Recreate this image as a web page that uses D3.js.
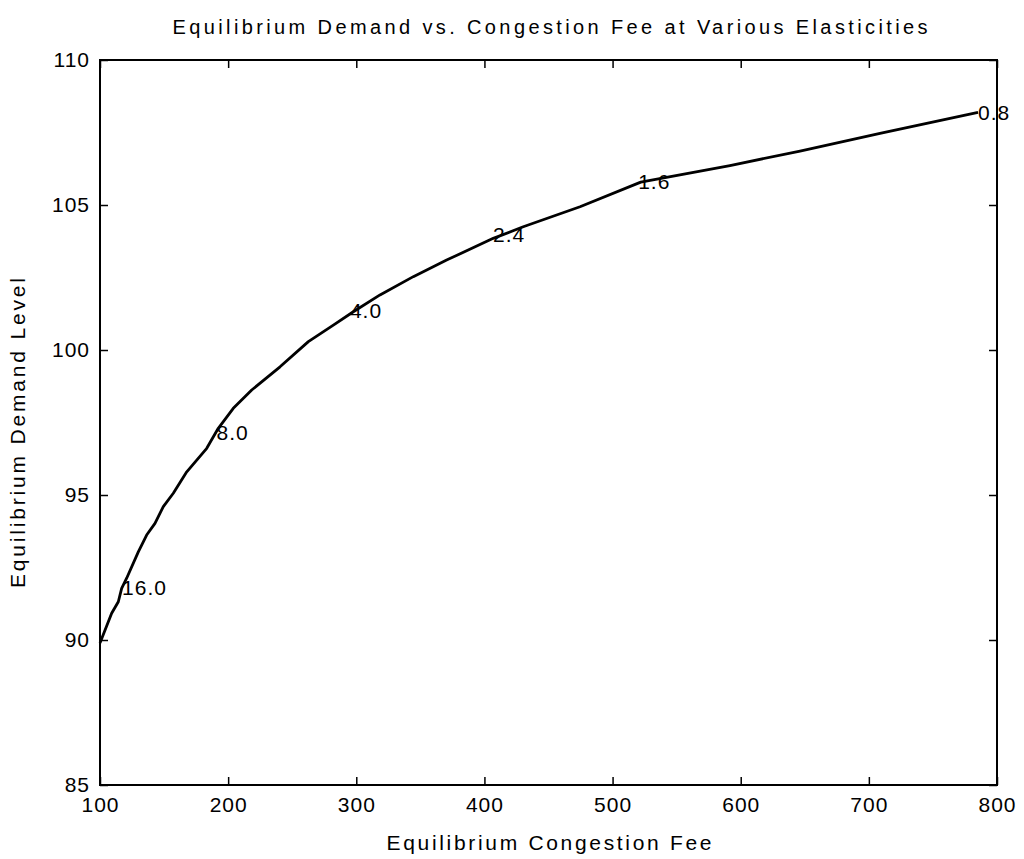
<!DOCTYPE html>
<html>
<head>
<meta charset="utf-8">
<script src="https://cdn.jsdelivr.net/npm/d3@7"></script>
<style>
  body { margin: 0; background: #fff; }
  text { font-family: "Liberation Sans", Arial, sans-serif; fill: #000; }
</style>
</head>
<body>
<svg width="1024" height="859"></svg>
<script>
// curve: equilibrium congestion fee vs equilibrium demand
var feeValues = [100, 109.1, 114.3, 116.9, 120.8, 129.9, 136.4, 142.9, 149.4, 157.2, 167.7,
  183.3, 192.3, 204.0, 218.4, 240.5, 262.6, 282.1, 297.7, 318.5, 344.5, 370.5,
  406.9, 430.3, 474.6, 522.0, 591.6, 646.3, 708.7, 785.2];
var demandValues = [89.9, 90.92, 91.32, 91.78, 92.13, 93.04, 93.62, 94.02, 94.6, 95.06, 95.8,
  96.61, 97.3, 97.99, 98.62, 99.42, 100.29, 100.86, 101.32, 101.9, 102.53, 103.1,
  103.85, 104.25, 104.94, 105.79, 106.36, 106.86, 107.47, 108.19];

// elasticity labels
var labelText = ["16.0", "8.0", "4.0", "2.4", "1.6", "0.8"];
var labelFee = [117.2, 191, 295, 406.7, 520, 785.2];
var labelDemand = [91.79, 97.14, 101.34, 103.97, 105.79, 108.19];

var xTicks = [100, 200, 300, 400, 500, 600, 700, 800];
var yTicks = [85, 90, 95, 100, 105, 110];

var svg = d3.select("svg"),
    plotLeft = 100, plotRight = 997, plotTop = 60, plotBottom = 785;

var x = d3.scaleLinear().domain([100, 800]).range([plotLeft, plotRight]);
var y = d3.scaleLinear().domain([85, 110]).range([plotBottom, plotTop]);

// axes, ticks pointing inward
function styleAxis(g) {
  g.select(".domain").remove();
  g.selectAll(".tick line").attr("stroke", "#000").attr("stroke-width", 1.5);
  g.selectAll(".tick text").style("font-size", "21px")
    .style("letter-spacing", "1px")
    .style("font-family", "'Liberation Sans', Arial, sans-serif");
}

svg.append("g")
    .attr("transform", "translate(0," + plotBottom + ")")
    .call(d3.axisBottom(x).tickValues(xTicks).tickSize(-8).tickPadding(12))
    .call(styleAxis);
svg.append("g")
    .attr("transform", "translate(0," + plotTop + ")")
    .call(d3.axisTop(x).tickValues(xTicks).tickSize(-8).tickFormat(""))
    .call(styleAxis);
svg.append("g")
    .attr("transform", "translate(" + plotLeft + ",0)")
    .call(d3.axisLeft(y).tickValues(yTicks).tickSize(-8).tickPadding(10))
    .call(styleAxis);
svg.append("g")
    .attr("transform", "translate(" + plotRight + ",0)")
    .call(d3.axisRight(y).tickValues(yTicks).tickSize(-8).tickFormat(""))
    .call(styleAxis);

svg.append("rect")
    .attr("x", plotLeft).attr("y", plotTop)
    .attr("width", plotRight - plotLeft).attr("height", plotBottom - plotTop)
    .attr("fill", "none").attr("stroke", "#000").attr("stroke-width", 2);

// curve
var line = d3.line()
    .x(function(d, i) { return x(feeValues[i]); })
    .y(function(d, i) { return y(demandValues[i]); });

svg.append("path")
    .datum(feeValues)
    .attr("d", line)
    .attr("fill", "none")
    .attr("stroke", "#000")
    .attr("stroke-width", 2.8)
    .attr("stroke-linejoin", "round");

// labels
svg.append("g").selectAll("text")
    .data(labelText)
    .enter().append("text")
      .attr("x", function(d, i) { return x(labelFee[i]); })
      .attr("y", function(d, i) { return y(labelDemand[i]); })
      .attr("dy", "0.35em")
      .style("font-size", "21px")
      .style("letter-spacing", "1px")
      .text(function(d) { return d; });

// titles
svg.append("text")
    .attr("x", 550).attr("y", 34)
    .attr("text-anchor", "middle")
    .attr("textLength", 755).attr("lengthAdjust", "spacing")
    .style("font-size", "20px")
    .text("Equilibrium Demand vs. Congestion Fee at Various Elasticities");

svg.append("text")
    .attr("x", 549).attr("y", 850)
    .attr("text-anchor", "middle")
    .attr("textLength", 325).attr("lengthAdjust", "spacing")
    .style("font-size", "21px")
    .text("Equilibrium Congestion Fee");

svg.append("text")
    .attr("transform", "translate(25,433) rotate(-90)")
    .attr("text-anchor", "middle")
    .attr("textLength", 310).attr("lengthAdjust", "spacing")
    .style("font-size", "21px")
    .text("Equilibrium Demand Level");
</script>
</body>
</html>
